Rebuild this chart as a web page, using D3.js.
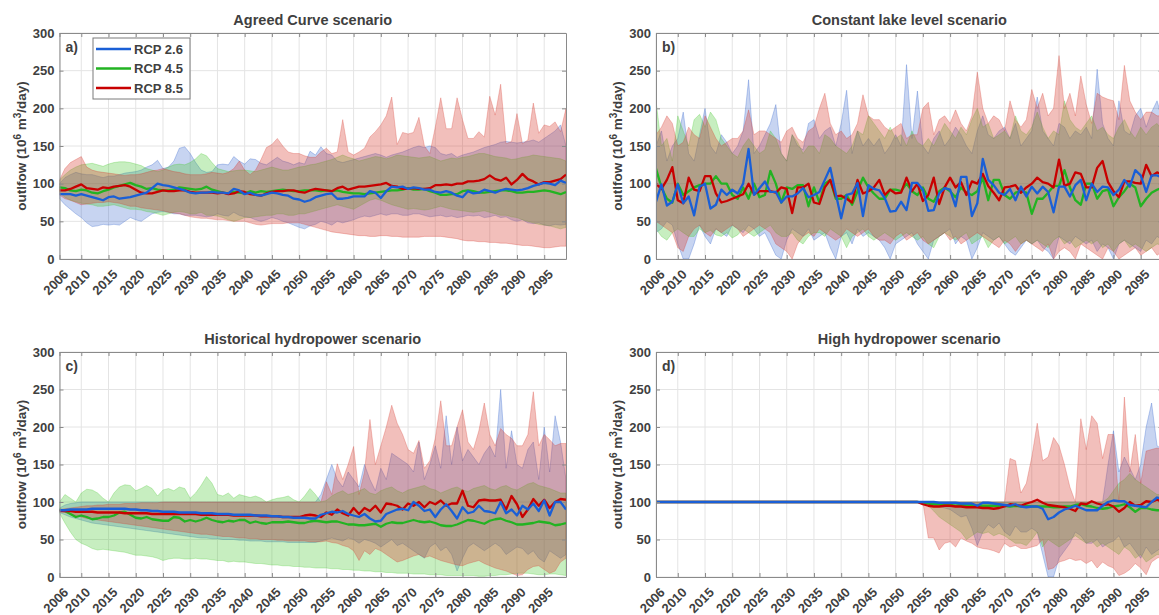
<!DOCTYPE html>
<html>
<head>
<meta charset="utf-8">
<script src="https://cdn.jsdelivr.net/npm/d3@7"></script>
<style>
body { margin: 0; background: #fff; }
svg { display: block; font-family: "Liberation Sans", Arial, Helvetica, sans-serif; }
</style>
</head>
<body>
<svg id="chart" width="1159" height="615"></svg>
<script>
var years = [
    2006, 2007, 2008, 2009, 2010, 2011, 2012, 2013, 2014, 2015,
    2016, 2017, 2018, 2019, 2020, 2021, 2022, 2023, 2024, 2025,
    2026, 2027, 2028, 2029, 2030, 2031, 2032, 2033, 2034, 2035,
    2036, 2037, 2038, 2039, 2040, 2041, 2042, 2043, 2044, 2045,
    2046, 2047, 2048, 2049, 2050, 2051, 2052, 2053, 2054, 2055,
    2056, 2057, 2058, 2059, 2060, 2061, 2062, 2063, 2064, 2065,
    2066, 2067, 2068, 2069, 2070, 2071, 2072, 2073, 2074, 2075,
    2076, 2077, 2078, 2079, 2080, 2081, 2082, 2083, 2084, 2085,
    2086, 2087, 2088, 2089, 2090, 2091, 2092, 2093, 2094, 2095,
    2096, 2097, 2098, 2099]
var xTicks = [2006, 2010, 2015, 2020, 2025, 2030, 2035, 2040, 2045, 2050, 2055, 2060, 2065, 2070, 2075, 2080, 2085, 2090, 2095]
var yTicks = [0, 50, 100, 150, 200, 250, 300]
var seriesNames = ["RCP 2.6", "RCP 4.5", "RCP 8.5"]

// a) Agreed Curve scenario
var aMean26 = [
    86, 86, 86, 84, 86, 84, 82, 80, 78, 82,
    83, 80, 81, 82, 84, 86, 88, 94, 100, 98,
    97, 95, 93, 91, 88, 87, 88, 88, 89, 88,
    88, 87, 93, 91, 86, 88, 85, 84, 86, 88,
    87, 85, 84, 80, 79, 76, 78, 82, 84, 86,
    87, 80, 80, 81, 83, 83, 83, 90, 88, 81,
    90, 96, 95, 96, 93, 95, 94, 92, 92, 89,
    88, 90, 88, 84, 82, 90, 87, 88, 92, 90,
    88, 91, 93, 92, 91, 92, 94, 97, 99, 101,
    100, 98, 104, 101]
var aLo26 = [
    80, 72, 66, 60, 55, 48, 43, 44, 46, 45,
    46, 45, 50, 55, 52, 50, 55, 60, 62, 63,
    62, 60, 60, 58, 58, 58, 57, 56, 57, 60,
    58, 57, 62, 58, 56, 55, 52, 50, 52, 55,
    53, 50, 48, 45, 42, 40, 44, 46, 50, 48,
    45, 50, 48, 50, 52, 55, 57, 56, 58, 60,
    58, 60, 60, 58, 58, 60, 60, 58, 56, 57,
    58, 56, 57, 55, 56, 58, 57, 58, 55, 56,
    58, 55, 56, 52, 50, 52, 48, 47, 48, 45,
    44, 46, 45, 46]
var aHi26 = [
    100, 108, 112, 115, 113, 112, 112, 110, 108, 110,
    110, 112, 114, 115, 116, 118, 122, 125, 131, 120,
    122, 130, 147, 149, 140, 128, 118, 115, 116, 125,
    126, 125, 136, 130, 126, 133, 132, 127, 125, 130,
    135, 130, 128, 125, 128, 126, 143, 138, 149, 140,
    138, 130, 128, 130, 132, 134, 136, 138, 140, 138,
    135, 138, 140, 142, 145, 148, 150, 148, 150, 148,
    140, 138, 140, 135, 138, 140, 142, 145, 148, 150,
    152, 155, 156, 155, 154, 155, 156, 158, 155, 160,
    165, 170, 178, 150]
var aMean45 = [
    95, 94, 91, 90, 92, 91, 88, 87, 90, 92,
    95, 97, 99, 101, 98, 96, 93, 94, 92, 91,
    91, 92, 95, 94, 93, 92, 93, 96, 92, 90,
    88, 87, 89, 88, 87, 90, 88, 90, 89, 90,
    91, 92, 91, 90, 90, 91, 91, 91, 90, 91,
    90, 91, 89, 88, 87, 87, 86, 87, 88, 89,
    90, 91, 91, 92, 94, 92, 92, 93, 90, 88,
    85, 85, 86, 86, 90, 91, 90, 88, 88, 89,
    90, 91, 91, 90, 88, 88, 89, 89, 90, 91,
    90, 88, 86, 89]
var aLo45 = [
    88, 82, 78, 76, 74, 73, 72, 70, 70, 71,
    72, 70, 68, 66, 66, 65, 63, 62, 60, 58,
    60, 62, 63, 62, 60, 60, 62, 58, 58, 57,
    55, 52, 50, 52, 55, 55, 56, 57, 58, 58,
    60, 60, 58, 58, 60, 60, 62, 64, 66, 68,
    70, 72, 70, 68, 66, 70, 74, 78, 80, 78,
    75, 72, 70, 68, 66, 67, 66, 65, 66, 68,
    70, 68, 66, 65, 64, 63, 62, 63, 64, 62,
    60, 58, 58, 56, 55, 52, 50, 48, 46, 45,
    44, 42, 40, 42]
var aHi45 = [
    105, 112, 118, 122, 125, 126, 127, 125, 123, 126,
    128, 129, 129, 128, 126, 124, 120, 118, 116, 118,
    122, 125, 126, 125, 128, 133, 140, 137, 128, 120,
    118, 116, 117, 118, 118, 117, 116, 118, 120, 122,
    120, 118, 118, 120, 122, 123, 125, 126, 128, 130,
    132, 135, 138, 135, 133, 130, 132, 134, 136, 135,
    133, 135, 138, 137, 136, 135, 134, 135, 136, 133,
    130, 132, 134, 133, 135, 136, 138, 140, 140, 138,
    136, 135, 134, 132, 133, 135, 136, 138, 137, 136,
    135, 134, 133, 130]
var aMean85 = [
    91, 91, 93, 96, 99, 94, 93, 92, 95, 94,
    96, 97, 98, 96, 92, 88, 87, 87, 89, 91,
    90, 90, 91, 91, 89, 88, 88, 88, 88, 87,
    88, 86, 87, 90, 89, 86, 85, 84, 87, 89,
    90, 90, 91, 91, 89, 88, 91, 93, 92, 91,
    90, 94, 96, 92, 94, 96, 96, 97, 98, 99,
    101, 97, 96, 93, 93, 94, 93, 93, 94, 98,
    98, 99, 98, 100, 100, 103, 103, 104, 106, 111,
    106, 104, 108, 99, 105, 113, 106, 103, 99, 102,
    102, 104, 106, 112]
var aLo85 = [
    85, 80, 78, 75, 72, 73, 74, 75, 75, 76,
    75, 74, 72, 70, 70, 68, 67, 66, 65, 64,
    62, 61, 60, 58, 56, 55, 54, 54, 53, 52,
    52, 51, 50, 50, 50, 48, 46, 45, 46, 47,
    47, 47, 48, 48, 48, 46, 44, 42, 40, 38,
    36, 35, 34, 33, 32, 31, 31, 30, 30, 31,
    31, 30, 30, 29, 29, 29, 29, 30, 30, 30,
    30, 29, 28, 27, 25, 24, 24, 23, 23, 22,
    22, 21, 21, 20, 19, 18, 18, 17, 16, 15,
    15, 16, 17, 17]
var aHi85 = [
    105, 120, 128, 132, 136, 122, 118, 116, 115, 114,
    113, 112, 111, 112, 112, 113, 115, 117, 118, 120,
    118, 116, 115, 113, 112, 112, 112, 113, 115, 114,
    113, 115, 120, 130, 118, 112, 118, 132, 148, 152,
    160, 150, 142, 140, 140, 137, 135, 135, 142, 147,
    140, 142, 185, 142, 138, 142, 147, 162, 169, 178,
    190, 215, 152, 168, 166, 168, 188, 150, 140, 175,
    214, 173, 173, 214, 185, 160, 160, 169, 162, 216,
    191, 232, 153, 156, 193, 153, 158, 207, 167, 178,
    176, 182, 169, 200]

// b) Constant lake level scenario
var bMean26 = [
    76, 99, 71, 76, 99, 74, 83, 58, 96, 100,
    67, 72, 92, 85, 92, 87, 100, 146, 85, 94,
    103, 89, 89, 75, 83, 83, 87, 94, 82, 85,
    89, 105, 121, 87, 54, 85, 87, 101, 57, 98,
    93, 91, 81, 63, 64, 76, 65, 101, 101, 92,
    64, 65, 87, 94, 92, 70, 109, 109, 57, 74,
    133, 105, 98, 88, 85, 93, 78, 96, 83, 96,
    87, 96, 89, 62, 96, 96, 83, 98, 105, 78,
    100, 89, 96, 95, 85, 92, 105, 96, 118, 111,
    89, 111, 111, 108]
var bLo26 = [
    35, 40, 50, 45, 20, 0, 0, 20, 45, 30,
    20, 40, 35, 30, 45, 40, 35, 45, 40, 30,
    35, 20, 5, 0, 25, 40, 35, 30, 40, 25,
    30, 35, 15, 0, 30, 35, 20, 40, 30, 35,
    30, 25, 15, 0, 20, 25, 30, 35, 20, 10,
    0, 25, 30, 35, 40, 20, 30, 25, 0, 15,
    35, 30, 25, 30, 20, 10, 5, 15, 25, 20,
    25, 15, 10, 0, 30, 25, 20, 30, 25, 20,
    25, 10, 20, 15, 0, 20, 25, 20, 15, 10,
    25, 20, 30, 25]
var bHi26 = [
    150, 170, 130, 150, 160, 195, 140, 130, 165, 200,
    150, 140, 165, 155, 140, 150, 170, 238, 140, 150,
    165, 180, 205, 140, 130, 165, 150, 145, 180, 185,
    160, 170, 175, 150, 180, 224, 140, 170, 150, 160,
    150, 160, 140, 150, 165, 150, 258, 160, 223, 150,
    140, 160, 170, 150, 160, 175, 165, 150, 140, 170,
    190, 165, 160, 170, 175, 160, 180, 150, 160, 170,
    215, 170, 160, 150, 180, 175, 160, 170, 165, 175,
    160, 252, 180, 160, 150, 210, 170, 165, 190, 200,
    175, 195, 210, 185]
var bMean45 = [
    120, 95, 80, 75, 100, 85, 90, 95, 98, 100,
    100, 110, 100, 100, 85, 80, 95, 80, 100, 82,
    85, 117, 100, 75, 95, 93, 98, 98, 70, 95,
    75, 100, 105, 80, 80, 85, 72, 90, 108, 95,
    87, 80, 80, 92, 92, 90, 100, 90, 85, 95,
    80, 76, 90, 95, 90, 82, 95, 88, 85, 90,
    108, 78, 105, 105, 85, 80, 88, 90, 88, 60,
    80, 80, 88, 97, 97, 118, 95, 78, 72, 100,
    100, 80, 90, 92, 70, 82, 90, 100, 95, 70,
    80, 88, 92, 95]
var bLo45 = [
    40, 30, 25, 35, 40, 35, 30, 30, 40, 35,
    38, 32, 30, 35, 28, 32, 40, 35, 30, 35,
    40, 45, 35, 30, 30, 35, 25, 20, 30, 35,
    35, 30, 40, 35, 30, 15, 30, 35, 40, 30,
    25, 30, 35, 30, 25, 30, 35, 30, 25, 30,
    20, 15, 30, 35, 30, 25, 30, 35, 20, 25,
    30, 15, 25, 30, 20, 25, 30, 20, 25, 20,
    25, 20, 15, 25, 30, 20, 25, 15, 20, 25,
    20, 25, 15, 20, 10, 20, 25, 15, 20, 15,
    10, 15, 20, 18]
var bHi45 = [
    210, 150, 160, 130, 190, 170, 150, 185, 192, 175,
    195, 185, 160, 150, 140, 135, 150, 160, 150, 140,
    145, 170, 160, 140, 130, 165, 155, 140, 150, 150,
    140, 165, 160, 150, 145, 140, 150, 170, 165, 190,
    180, 170, 160, 175, 160, 165, 150, 170, 155, 150,
    160, 150, 165, 180, 170, 160, 175, 165, 185, 200,
    175, 180, 160, 165, 170, 160, 190, 170, 165, 175,
    195, 175, 160, 170, 165, 210, 185, 175, 170, 180,
    190, 170, 175, 165, 160, 175, 185, 170, 160, 175,
    165, 175, 180, 170]
var bMean85 = [
    100, 93, 105, 122, 78, 74, 108, 92, 90, 110,
    110, 87, 75, 77, 80, 83, 86, 100, 86, 90,
    90, 90, 88, 95, 93, 61, 95, 95, 100, 75,
    73, 95, 105, 83, 84, 80, 75, 105, 87, 90,
    95, 105, 85, 92, 87, 88, 108, 90, 100, 77,
    85, 108, 73, 95, 108, 95, 102, 85, 103, 100,
    113, 97, 88, 78, 95, 96, 98, 88, 95, 100,
    108, 102, 100, 95, 132, 97, 100, 115, 113, 95,
    95, 121, 130, 102, 90, 82, 103, 103, 101, 100,
    125, 110, 115, 112]
var bLo85 = [
    50, 45, 40, 35, 15, 10, 30, 40, 45, 35,
    30, 40, 35, 40, 45, 40, 30, 35, 40, 45,
    40, 35, 20, 15, 10, 0, 20, 30, 35, 30,
    40, 35, 30, 25, 30, 40, 35, 30, 35, 40,
    30, 25, 25, 20, 30, 35, 25, 30, 35, 25,
    20, 25, 30, 35, 25, 30, 20, 25, 30, 35,
    30, 25, 20, 15, 25, 20, 10, 20, 25, 20,
    15, 10, 20, 0, 10, 15, 10, 0, 20, 15,
    10, 5, 0, 15, 10, 0, 5, 10, 15, 5,
    10, 15, 5, 10]
var bHi85 = [
    165, 175, 190, 180, 150, 155, 175, 165, 160, 190,
    175, 160, 150, 155, 160, 160, 170, 198, 165, 170,
    170, 165, 160, 155, 170, 175, 160, 155, 170, 175,
    200, 220, 180, 165, 170, 160, 165, 180, 218, 190,
    185, 185, 175, 170, 175, 180, 160, 165, 165, 200,
    208, 165, 185, 190, 180, 198, 180, 170, 190, 248,
    200, 180, 190, 185, 170, 210, 185, 175, 185, 225,
    200, 220, 190, 200, 270, 200, 220, 190, 243, 205,
    180, 220, 215, 212, 210, 185, 257, 210, 195, 185,
    195, 195, 190, 190]

// c) Historical hydropower scenario
var cMean26 = [
    89, 89, 90, 90, 90, 90, 91, 91, 91, 91,
    91, 91, 91, 90, 90, 89, 89, 88, 88, 87,
    87, 87, 86, 86, 86, 86, 85, 85, 85, 84,
    84, 84, 83, 83, 83, 83, 82, 82, 82, 81,
    81, 80, 80, 79, 79, 79, 78, 78, 83, 85,
    87, 86, 88, 84, 82, 80, 84, 78, 74, 75,
    84, 87, 90, 91, 89, 100, 95, 88, 90, 80,
    90, 97, 88, 78, 93, 85, 87, 95, 88, 87,
    85, 100, 85, 90, 82, 95, 90, 98, 88, 102,
    82, 100, 100, 90]
var cLo26 = [
    86, 83, 80, 78, 76, 74, 72, 71, 70, 69,
    68, 67, 66, 65, 64, 63, 62, 61, 60, 59,
    58, 57, 56, 55, 54, 53, 52, 52, 51, 51,
    50, 50, 50, 49, 49, 48, 48, 48, 47, 47,
    47, 47, 46, 46, 46, 46, 46, 46, 48, 50,
    52, 50, 48, 52, 50, 45, 50, 48, 45, 40,
    45, 50, 42, 45, 40, 35, 30, 25, 40, 45,
    35, 40, 30, 8, 25, 40, 45, 40, 35, 40,
    45, 40, 30, 35, 40, 38, 30, 35, 25, 20,
    35, 30, 25, 30]
var cHi26 = [
    92, 96, 98, 99, 100, 100, 100, 100, 100, 100,
    100, 100, 100, 100, 100, 100, 100, 100, 100, 100,
    100, 100, 100, 100, 100, 100, 100, 100, 100, 100,
    100, 100, 100, 100, 100, 100, 100, 100, 100, 100,
    100, 100, 100, 100, 100, 100, 100, 100, 110, 130,
    150, 130, 120, 140, 130, 120, 150, 130, 115, 145,
    130, 165, 160, 155, 150, 140, 180, 130, 150, 175,
    145, 215, 150, 200, 155, 170, 160, 150, 165, 175,
    160, 250, 145, 195, 150, 145, 170, 180, 130, 200,
    140, 215, 180, 130]
var cMean45 = [
    90, 88, 84, 80, 82, 80, 77, 78, 80, 80,
    82, 86, 87, 83, 79, 78, 80, 77, 76, 75,
    75, 80, 79, 74, 76, 74, 76, 79, 76, 74,
    73, 75, 74, 76, 76, 72, 74, 72, 71, 73,
    73, 73, 74, 73, 72, 72, 74, 75, 74, 73,
    74, 74, 72, 70, 70, 69, 69, 70, 71, 67,
    71, 73, 72, 72, 74, 76, 74, 73, 74, 72,
    69, 68, 68, 70, 73, 76, 75, 73, 71, 75,
    77, 78, 75, 73, 70, 70, 71, 72, 74, 73,
    72, 69, 70, 72]
var cLo45 = [
    85, 72, 60, 50, 45, 42, 38, 36, 37, 36,
    35, 34, 33, 31, 29, 29, 28, 27, 25, 22,
    24, 25, 25, 24, 24, 25, 24, 24, 23, 22,
    22, 20, 21, 20, 20, 19, 18, 18, 17, 16,
    16, 15, 15, 14, 14, 13, 13, 12, 12, 12,
    11, 11, 10, 10, 9, 9, 8, 8, 7, 7,
    6, 6, 5, 5, 5, 4, 4, 4, 3, 3,
    3, 2, 2, 2, 2, 2, 2, 1, 1, 2,
    2, 3, 3, 4, 5, 5, 5, 4, 3, 3,
    4, 4, 3, 2]
var cHi45 = [
    100, 110, 105, 100, 112, 117, 116, 112, 105, 100,
    112, 120, 123, 122, 115, 118, 122, 118, 108, 116,
    118, 115, 120, 118, 105, 112, 122, 134, 125, 110,
    108, 112, 105, 110, 108, 106, 108, 105, 100, 103,
    105, 106, 108, 103, 100, 108, 118, 110, 100, 102,
    108, 112, 115, 110, 112, 115, 118, 112, 110, 115,
    118, 120, 115, 112, 116, 118, 120, 122, 118, 116,
    112, 115, 118, 120, 116, 114, 118, 120, 122, 118,
    116, 120, 122, 118, 116, 120, 124, 126, 122, 120,
    118, 115, 112, 112]
var cMean85 = [
    88, 88, 88, 87, 87, 87, 87, 86, 86, 86,
    86, 86, 85, 85, 85, 85, 85, 84, 84, 84,
    84, 84, 84, 84, 84, 84, 83, 83, 83, 83,
    83, 83, 82, 82, 82, 82, 82, 81, 81, 81,
    81, 80, 80, 80, 80, 82, 83, 82, 80, 86,
    83, 90, 85, 82, 92, 84, 92, 88, 95, 86,
    98, 97, 95, 90, 98, 95, 100, 93, 100, 97,
    102, 95, 98, 98, 115, 95, 93, 102, 103, 102,
    102, 103, 90, 108, 97, 80, 90, 104, 95, 103,
    92, 100, 104, 103]
var cLo85 = [
    88, 86, 84, 82, 80, 78, 77, 76, 75, 74,
    73, 72, 71, 70, 69, 68, 67, 66, 65, 64,
    63, 62, 61, 60, 59, 58, 57, 57, 56, 55,
    54, 54, 53, 52, 52, 51, 51, 50, 50, 50,
    49, 49, 48, 48, 48, 48, 47, 47, 47, 48,
    46, 45, 42, 40, 35, 22, 35, 30, 38, 35,
    30, 25, 20, 22, 25, 28, 30, 26, 28, 25,
    22, 20, 18, 16, 15, 18, 20, 22, 18, 15,
    12, 10, 8, 5, 2, 3, 10, 14, 15, 10,
    5, 8, 20, 25]
var cHi85 = [
    90, 91, 92, 93, 94, 95, 95, 96, 96, 97,
    97, 97, 98, 98, 98, 99, 99, 99, 99, 100,
    100, 100, 100, 100, 100, 100, 100, 100, 100, 100,
    100, 100, 100, 100, 100, 100, 100, 100, 100, 100,
    100, 100, 100, 100, 100, 100, 100, 100, 100, 127,
    110, 151, 130, 150, 174, 110, 140, 210, 150, 175,
    200, 229, 205, 190, 170, 165, 182, 145, 155, 185,
    235, 175, 175, 200, 223, 180, 170, 195, 232, 190,
    175, 198, 190, 185, 175, 175, 190, 247, 175, 190,
    183, 175, 178, 178]

// d) High hydropower scenario
var dMean26 = [
    100, 100, 100, 100, 100, 100, 100, 100, 100, 100,
    100, 100, 100, 100, 100, 100, 100, 100, 100, 100,
    100, 100, 100, 100, 100, 100, 100, 100, 100, 100,
    100, 100, 100, 100, 100, 100, 100, 100, 100, 100,
    100, 100, 100, 100, 100, 100, 100, 100, 100, 100,
    100, 100, 99, 99, 99, 99, 98, 98, 98, 95,
    99, 99, 98, 97, 96, 95, 97, 94, 93, 94,
    94, 91, 77, 80, 86, 90, 92, 95, 92, 89,
    89, 89, 95, 100, 102, 101, 101, 96, 95, 94,
    93, 100, 106, 104]
var dLo26 = [
    100, 100, 100, 100, 100, 100, 100, 100, 100, 100,
    100, 100, 100, 100, 100, 100, 100, 100, 100, 100,
    100, 100, 100, 100, 100, 100, 100, 100, 100, 100,
    100, 100, 100, 100, 100, 100, 100, 100, 100, 100,
    100, 100, 100, 100, 100, 100, 100, 100, 100, 100,
    98, 96, 94, 92, 90, 85, 80, 82, 65, 42,
    60, 70, 65, 72, 60, 55, 68, 60, 60, 65,
    60, 30, 0, 0, 25, 35, 45, 60, 55, 45,
    45, 50, 40, 45, 48, 55, 40, 45, 35, 25,
    40, 30, 35, 40]
var dHi26 = [
    100, 100, 100, 100, 100, 100, 100, 100, 100, 100,
    100, 100, 100, 100, 100, 100, 100, 100, 100, 100,
    100, 100, 100, 100, 100, 100, 100, 100, 100, 100,
    100, 100, 100, 100, 100, 100, 100, 100, 100, 100,
    100, 100, 100, 100, 100, 100, 100, 100, 100, 100,
    100, 100, 100, 100, 100, 100, 100, 100, 100, 100,
    100, 100, 100, 100, 100, 100, 100, 100, 100, 100,
    100, 100, 100, 100, 100, 100, 100, 100, 100, 100,
    100, 100, 100, 150, 195, 140, 160, 145, 130, 150,
    200, 232, 175, 170]
var dMean45 = [
    100, 100, 100, 100, 100, 100, 100, 100, 100, 100,
    100, 100, 100, 100, 100, 100, 100, 100, 100, 100,
    100, 100, 100, 100, 100, 100, 100, 100, 100, 100,
    100, 100, 100, 100, 100, 100, 100, 100, 100, 100,
    100, 100, 100, 100, 100, 100, 100, 100, 100, 99,
    98, 97, 97, 96, 96, 95, 96, 96, 96, 95,
    95, 95, 95, 95, 95, 94, 95, 94, 95, 94,
    94, 94, 94, 93, 93, 94, 94, 96, 97, 95,
    94, 92, 91, 92, 94, 95, 97, 93, 87, 92,
    92, 90, 89, 89]
var dLo45 = [
    100, 100, 100, 100, 100, 100, 100, 100, 100, 100,
    100, 100, 100, 100, 100, 100, 100, 100, 100, 100,
    100, 100, 100, 100, 100, 100, 100, 100, 100, 100,
    100, 100, 100, 100, 100, 100, 100, 100, 100, 100,
    100, 100, 100, 100, 100, 100, 100, 100, 100, 100,
    95, 88, 80, 75, 70, 65, 60, 50, 55, 60,
    58, 60, 55, 58, 55, 50, 45, 45, 42, 50,
    60, 40, 50, 45, 40, 45, 50, 55, 50, 45,
    48, 40, 45, 40, 35, 30, 40, 35, 25, 30,
    20, 25, 30, 30]
var dHi45 = [
    100, 100, 100, 100, 100, 100, 100, 100, 100, 100,
    100, 100, 100, 100, 100, 100, 100, 100, 100, 100,
    100, 100, 100, 100, 100, 100, 100, 100, 100, 100,
    100, 100, 100, 100, 100, 100, 100, 100, 100, 100,
    100, 100, 100, 100, 100, 100, 100, 100, 100, 100,
    100, 100, 100, 100, 100, 100, 100, 100, 100, 100,
    100, 100, 100, 100, 100, 100, 100, 100, 100, 100,
    100, 100, 100, 100, 100, 100, 100, 100, 100, 100,
    100, 100, 100, 105, 115, 125, 130, 138, 130, 125,
    120, 115, 110, 110]
var dMean85 = [
    100, 100, 100, 100, 100, 100, 100, 100, 100, 100,
    100, 100, 100, 100, 100, 100, 100, 100, 100, 100,
    100, 100, 100, 100, 100, 100, 100, 100, 100, 100,
    100, 100, 100, 100, 100, 100, 100, 100, 100, 100,
    100, 100, 100, 100, 100, 100, 100, 100, 100, 97,
    95, 94, 94, 95, 95, 94, 94, 93, 93, 93,
    92, 92, 91, 92, 94, 97, 96, 95, 98, 100,
    103, 99, 96, 95, 94, 93, 91, 88, 98, 97,
    101, 98, 96, 97, 94, 87, 92, 100, 95, 96,
    101, 100, 103, 100]
var dLo85 = [
    100, 100, 100, 100, 100, 100, 100, 100, 100, 100,
    100, 100, 100, 100, 100, 100, 100, 100, 100, 100,
    100, 100, 100, 100, 100, 100, 100, 100, 100, 100,
    100, 100, 100, 100, 100, 100, 100, 100, 100, 100,
    100, 100, 100, 100, 100, 100, 100, 100, 100, 100,
    52, 52, 36, 45, 47, 40, 52, 48, 45, 40,
    38, 37, 35, 32, 45, 40, 42, 38, 38, 40,
    42, 50, 10, 12, 20, 22, 25, 22, 23, 18,
    22, 12, 20, 15, 12, 2, 5, 10, 18, 12,
    3, 20, 25, 28]
var dHi85 = [
    100, 100, 100, 100, 100, 100, 100, 100, 100, 100,
    100, 100, 100, 100, 100, 100, 100, 100, 100, 100,
    100, 100, 100, 100, 100, 100, 100, 100, 100, 100,
    100, 100, 100, 100, 100, 100, 100, 100, 100, 100,
    100, 100, 100, 100, 100, 100, 100, 100, 100, 100,
    100, 100, 100, 100, 100, 100, 100, 100, 100, 100,
    100, 100, 100, 100, 100, 158, 155, 112, 125, 160,
    205, 155, 160, 186, 175, 150, 120, 100, 211, 170,
    215, 205, 158, 190, 190, 100, 240, 140, 190, 125,
    168, 170, 172, 170]

var lineColors = ["#1a5fd6", "#22b322", "#c80000"]
var bandColors = ["rgb(30,85,200)", "rgb(70,200,45)", "rgb(215,55,45)"]
var bandAlpha = [0.25, 0.3, 0.32]
var textColor = "#404040"
var axisColor = "#8a8a8a"

var panels = [
    {id: "a", title: "Agreed Curve scenario", left: 59.5, top: 33, bottom: 259,
        mean: [aMean26, aMean45, aMean85], lo: [aLo26, aLo45, aLo85], hi: [aHi26, aHi45, aHi85], legend: true},
    {id: "b", title: "Constant lake level scenario", left: 656, top: 33, bottom: 259,
        mean: [bMean26, bMean45, bMean85], lo: [bLo26, bLo45, bLo85], hi: [bHi26, bHi45, bHi85]},
    {id: "c", title: "Historical hydropower scenario", left: 59.5, top: 352, bottom: 577,
        mean: [cMean26, cMean45, cMean85], lo: [cLo26, cLo45, cLo85], hi: [cHi26, cHi45, cHi85]},
    {id: "d", title: "High hydropower scenario", left: 656, top: 352, bottom: 577,
        mean: [dMean26, dMean45, dMean85], lo: [dLo26, dLo45, dLo85], hi: [dHi26, dHi45, dHi85]}
]
var plotWidth = 506.5

var svg = d3.select("#chart")
var problems = []

panels.forEach(drawPanel)

function drawPanel(p) {
    var x = d3.scaleLinear().domain([2006, 2099]).range([p.left, p.left + plotWidth])
    var y = d3.scaleLinear().domain([0, 300]).range([p.bottom, p.top])
    var g = svg.append("g").attr("class", "panel-" + p.id)

    g.append("clipPath").attr("id", "clip-" + p.id)
        .append("rect")
        .attr("x", p.left).attr("y", p.top)
        .attr("width", plotWidth).attr("height", p.bottom - p.top)

    // grid
    var grid = g.append("g").attr("stroke", "#e4e4e4").attr("stroke-width", 1)
    grid.selectAll("line.gx").data(xTicks).enter().append("line")
        .attr("x1", d => x(d)).attr("x2", d => x(d))
        .attr("y1", p.top).attr("y2", p.bottom)
    grid.selectAll("line.gy").data(yTicks).enter().append("line")
        .attr("x1", p.left).attr("x2", p.left + plotWidth)
        .attr("y1", d => y(d)).attr("y2", d => y(d))

    var plot = g.append("g").attr("clip-path", "url(#clip-" + p.id + ")")

    // bands: blue, green, red
    for (var s = 0; s < 3; s++) {
        var lo = p.lo[s], hi = p.hi[s]
        ;[lo, hi, p.mean[s]].forEach(function (arr) {
            if (arr.length !== years.length) problems.push(p.id + " series " + s + " has " + arr.length)
        })
        var area = d3.area()
            .x((d, i) => x(years[i]))
            .y0((d, i) => y(lo[i]))
            .y1((d, i) => y(hi[i]))
        plot.append("path")
            .datum(years)
            .attr("d", area)
            .attr("fill", bandColors[s])
            .attr("fill-opacity", bandAlpha[s])
            .attr("stroke", bandColors[s])
            .attr("stroke-opacity", 0.35)
            .attr("stroke-width", 0.8)
    }

    // mean lines, blue on top
    ;[1, 2, 0].forEach(function (s) {
        var vals = p.mean[s]
        var line = d3.line()
            .x((d, i) => x(years[i]))
            .y((d, i) => y(vals[i]))
        plot.append("path")
            .datum(years)
            .attr("d", line)
            .attr("fill", "none")
            .attr("stroke", lineColors[s])
            .attr("stroke-width", 2.3)
            .attr("stroke-linejoin", "round")
    })

    // axes (ticks inside, box on)
    var xAxis = d3.axisBottom(x).tickValues(xTicks).tickFormat(d3.format("d"))
        .tickSizeInner(-4).tickSizeOuter(0).tickPadding(3)
    var xg = g.append("g").attr("transform", "translate(0," + p.bottom + ")").call(xAxis)
    xg.selectAll("text")
        .attr("y", null).attr("dy", "0.35em")
        .attr("transform", "translate(6,13) rotate(-45)")
        .attr("text-anchor", "end")

    var topAxis = d3.axisTop(x).tickValues(xTicks).tickSizeInner(-4).tickSizeOuter(0).tickFormat("")
    g.append("g").attr("transform", "translate(0," + p.top + ")").call(topAxis)

    var yAxis = d3.axisLeft(y).tickValues(yTicks).tickSizeInner(-4).tickSizeOuter(0).tickPadding(5)
    g.append("g").attr("transform", "translate(" + p.left + ",0)").call(yAxis)

    var rightAxis = d3.axisRight(y).tickValues(yTicks).tickSizeInner(-4).tickSizeOuter(0).tickFormat("")
    g.append("g").attr("transform", "translate(" + (p.left + plotWidth) + ",0)").call(rightAxis)

    g.selectAll(".domain").attr("stroke", axisColor)
    g.selectAll(".tick line").attr("stroke", axisColor)
    g.selectAll(".tick text")
        .attr("fill", textColor)
        .style("font-size", "13px")
        .style("font-weight", "bold")
        .style("font-family", "'Liberation Sans', Arial, sans-serif")

    // title
    g.append("text")
        .attr("x", p.left + plotWidth / 2)
        .attr("y", p.top - 8)
        .attr("text-anchor", "middle")
        .attr("fill", textColor)
        .style("font-size", "14.5px")
        .style("font-weight", "bold")
        .text(p.title)

    // panel letter
    g.append("text")
        .attr("x", p.left + 6)
        .attr("y", p.top + 19)
        .attr("fill", textColor)
        .style("font-size", "14px")
        .style("font-weight", "bold")
        .text(p.id + ")")

    // y label
    var yl = g.append("text")
        .attr("transform", "translate(" + (p.left - 34) + "," + ((p.top + p.bottom) / 2) + ") rotate(-90)")
        .attr("text-anchor", "middle")
        .attr("fill", textColor)
        .style("font-size", "13.5px")
        .style("font-weight", "bold")
    yl.append("tspan").text("outlfow (10")
    yl.append("tspan").attr("baseline-shift", "super").style("font-size", "10px").text("6")
    yl.append("tspan").text(" m")
    yl.append("tspan").attr("baseline-shift", "super").style("font-size", "10px").text("3")
    yl.append("tspan").text("/day)")

    if (p.legend) drawLegend(g, p)
}

function drawLegend(g, p) {
    var lx = p.left + 33.5, ly = p.top + 5
    var leg = g.append("g")
    leg.append("rect")
        .attr("x", lx).attr("y", ly)
        .attr("width", 97).attr("height", 61)
        .attr("fill", "#fff")
        .attr("stroke", "#7a7a7a")
        .attr("stroke-width", 1)
    var rows = leg.selectAll("g.row").data(seriesNames).enter().append("g")
        .attr("transform", (d, i) => "translate(" + lx + "," + (ly + 11 + i * 19.5) + ")")
    rows.append("line")
        .attr("x1", 3).attr("x2", 38)
        .attr("stroke", (d, i) => lineColors[i])
        .attr("stroke-width", 2.3)
    rows.append("text")
        .attr("x", 41)
        .attr("dy", "0.35em")
        .attr("fill", textColor)
        .style("font-size", "13px")
        .style("font-weight", "bold")
        .text(d => d)
}

if (problems.length) throw new Error(problems.join("; "))
</script>
</body>
</html>
